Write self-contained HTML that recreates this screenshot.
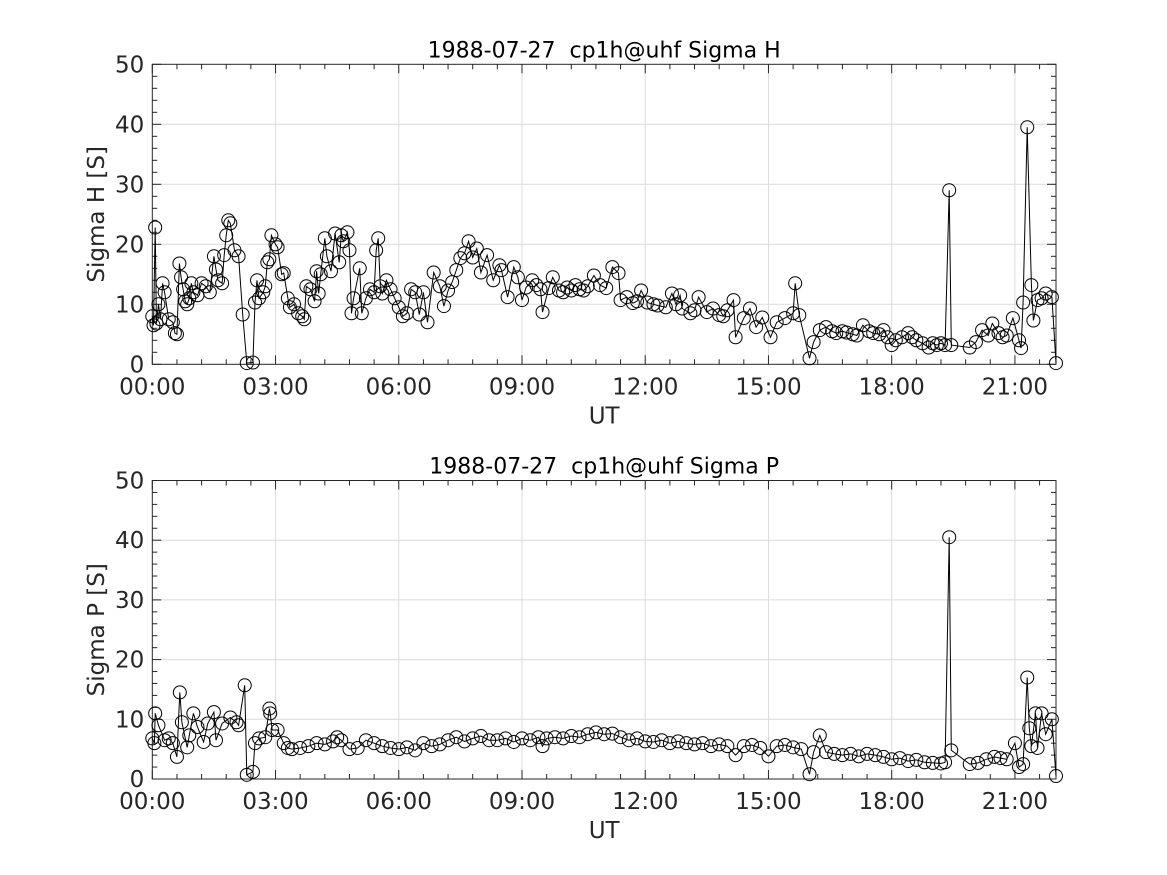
<!DOCTYPE html>
<html><head><meta charset="utf-8"><style>
body{margin:0;background:#fff;}
svg{display:block;font-family:"DejaVu Sans","Liberation Sans",sans-serif;}
</style></head><body>
<svg id="fig" width="1167" height="875" viewBox="0 0 1167 875" xmlns="http://www.w3.org/2000/svg"></svg>
<script>
const xTickLabels=["00:00","03:00","06:00","09:00","12:00","15:00","18:00","21:00"];
const yTickLabels=["0","10","20","30","40","50"];
const hT=[0,0.03,0.07,0.1,0.15,0.2,0.25,0.3,0.4,0.5,0.55,0.6,0.66,0.7,0.75,0.8,0.85,0.9,0.95,1.0,1.1,1.2,1.3,1.4,1.5,1.55,1.6,1.7,1.75,1.8,1.85,1.9,2.0,2.1,2.2,2.3,2.45,2.5,2.55,2.6,2.7,2.75,2.8,2.85,2.9,3.0,3.05,3.15,3.2,3.3,3.35,3.45,3.55,3.65,3.7,3.75,3.85,3.95,4.0,4.05,4.1,4.2,4.25,4.35,4.45,4.55,4.6,4.65,4.75,4.8,4.85,4.9,5.05,5.1,5.2,5.3,5.4,5.45,5.5,5.55,5.6,5.7,5.8,5.9,6.0,6.1,6.2,6.3,6.4,6.5,6.6,6.7,6.85,7.0,7.1,7.2,7.3,7.4,7.5,7.6,7.7,7.8,7.9,8.0,8.15,8.3,8.45,8.5,8.65,8.8,8.9,9.0,9.1,9.25,9.35,9.45,9.5,9.65,9.75,9.9,10.0,10.1,10.2,10.3,10.4,10.5,10.6,10.75,10.9,11.05,11.2,11.35,11.4,11.55,11.7,11.8,11.9,12.05,12.2,12.3,12.5,12.65,12.75,12.85,12.9,13.1,13.2,13.3,13.5,13.65,13.8,13.9,14.0,14.15,14.2,14.4,14.55,14.7,14.85,15.05,15.2,15.4,15.6,15.65,15.75,16.0,16.1,16.25,16.4,16.55,16.65,16.8,16.9,17.05,17.15,17.3,17.45,17.55,17.7,17.8,17.9,18.0,18.1,18.25,18.4,18.5,18.6,18.75,18.9,19.0,19.1,19.2,19.3,19.4,19.45,19.9,20.05,20.2,20.35,20.45,20.6,20.7,20.8,20.95,21.1,21.15,21.2,21.3,21.4,21.45,21.55,21.65,21.75,21.9,22.0];
const hV=[8,6.5,22.8,6.8,10,7.5,13.5,12,7.5,7,5.2,5,16.8,14.5,12.5,10.5,10,11,13.5,12,11.5,13.5,13,12,18,15.8,14,13.5,18.2,21.5,24,23.5,19,18,8.3,0.2,0.3,10.3,14,11,12,13,17,17.5,21.5,20,19.5,15,15.2,11,9.5,10,8.5,8,7.5,13,12.5,10.5,15.5,11.8,15,21,18,15.5,21.8,17,21.5,20.5,22,19,8.5,11,16,8.5,11,12.5,12,19,21,13,11.8,14,12.5,11,9.5,8,8.5,12.5,12,8.3,12,7,15.3,13,9.7,12.3,13.7,15.7,17.7,18.5,20.5,17.8,19.3,15.3,18.2,14,16.5,15.7,11.2,16.2,14.5,10.7,12.8,14,13.2,12.5,8.7,12.7,14.5,12.3,12,12.8,12.3,13.2,12.5,12.3,13,14.8,13.2,12.7,16.2,15.2,10.7,11.2,10.2,10.5,12.3,10.3,10,9.8,9.5,11.8,10,11.5,9.3,8.5,9,11.2,8.7,9.3,8.2,8,9,10.7,4.5,7.7,9.3,6.2,7.8,4.5,7,7.7,8.5,13.5,8.2,1,3.7,5.7,6.2,5.5,5.2,5.5,5.3,5,4.8,6.5,5.5,5.2,5,5.7,4.5,3.2,4,4.5,5.2,4.5,4,3.5,2.8,3.5,3.2,3.5,3.2,29,3.2,2.8,3.7,5.7,4.8,6.8,5.2,4.5,4.8,7.7,4,2.7,10.3,39.5,13.2,7.3,10.7,11,11.8,11.2,0.2];
const pT=[0,0.05,0.07,0.15,0.3,0.4,0.5,0.6,0.67,0.72,0.85,0.9,1.0,1.1,1.25,1.35,1.5,1.55,1.7,1.9,2.05,2.1,2.25,2.3,2.45,2.5,2.6,2.75,2.85,2.87,2.92,3.05,3.2,3.3,3.4,3.6,3.8,4.0,4.2,4.4,4.5,4.6,4.8,5.0,5.2,5.4,5.6,5.8,6.0,6.2,6.4,6.6,6.8,7.0,7.2,7.4,7.6,7.8,8.0,8.2,8.4,8.6,8.8,9.0,9.2,9.4,9.5,9.6,9.8,10.0,10.2,10.4,10.6,10.8,11.0,11.2,11.4,11.6,11.8,12.0,12.2,12.4,12.6,12.8,13.0,13.2,13.4,13.6,13.8,14.0,14.2,14.4,14.6,14.8,15.0,15.2,15.4,15.6,15.8,16.0,16.1,16.25,16.4,16.6,16.8,17.0,17.2,17.4,17.6,17.8,18.0,18.2,18.4,18.6,18.8,19.0,19.2,19.3,19.4,19.45,19.9,20.1,20.3,20.5,20.65,20.8,21.0,21.1,21.2,21.3,21.35,21.4,21.5,21.55,21.65,21.75,21.9,22.0];
const pV=[6.8,6,11,9,6.5,6.8,6,3.7,14.5,9.5,5.3,7.3,11,8.7,6.2,9.3,11.2,6.5,9.3,10.3,9.5,9,15.7,0.7,1.2,6,6.8,7,11.8,11,8.2,8.2,6,5.2,5,5.2,5.5,6,5.8,6.3,7,6.5,5,5.2,6.5,6,5.5,5.2,5,5.3,4.8,6,5.5,5.8,6.5,7,6.3,6.8,7.2,6.5,6.5,6.8,6.2,6.8,6.5,7,5.5,6.8,7,6.8,7.2,7,7.5,7.8,7.5,7.6,7,6.5,6.8,6.3,6.2,6.5,6,6.3,6,5.8,6,5.5,5.8,5.5,4,5.5,5.7,5.2,3.8,5.5,5.7,5.3,5,0.8,4.5,7.3,4.5,4.2,4,4.2,3.8,4.2,4,3.7,3.3,3.5,3,3.2,2.8,2.7,2.6,2.8,40.5,4.8,2.5,2.7,3.3,3.7,3.5,3.3,6,2,2.5,17,8.5,5.5,11,5.2,11,7.5,10,0.5];

const NS="http://www.w3.org/2000/svg";
const svg=document.getElementById('fig');
function mk(tag,attrs,parent){const e=document.createElementNS(NS,tag);for(const k in attrs)e.setAttribute(k,attrs[k]);(parent||svg).appendChild(e);return e;}
const FS=23;
function panel(top,bottom,title,ylabel,T,V,key){
  const L=152.3,R=1056,xMax=22,yMax=50;
  const g=mk('g',{});
  
  
  const xs=t=>L+(R-L)*t/xMax;
  const ys=v=>bottom-(bottom-top)*v/yMax;
  for(let i=1;i<8;i++){const l=mk('line',{x1:xs(i*3),x2:xs(i*3),y1:top,y2:bottom,stroke:'#dcdcdc','stroke-width':1},g);
    }
  for(let i=1;i<5;i++){const l=mk('line',{x1:L,x2:R,y1:ys(i*10),y2:ys(i*10),stroke:'#dcdcdc','stroke-width':1},g);
    }
  for(let m=0;m<=xMax/0.6+0.01;m++){const t=m*0.6;if(t>xMax)break;const major=(m%5===0);const len=major?9:5;
    mk('line',{x1:xs(t),x2:xs(t),y1:bottom,y2:bottom-len,stroke:'#262626','stroke-width':1},g);
    mk('line',{x1:xs(t),x2:xs(t),y1:top,y2:top+len,stroke:'#262626','stroke-width':1},g);}
  for(let v=0;v<=50;v+=2){const major=(v%10===0);const len=major?9:5;
    mk('line',{x1:L,x2:L+len,y1:ys(v),y2:ys(v),stroke:'#262626','stroke-width':1},g);
    mk('line',{x1:R,x2:R-len,y1:ys(v),y2:ys(v),stroke:'#262626','stroke-width':1},g);}
  const box=mk('rect',{x:L,y:top,width:R-L,height:bottom-top,fill:'none',stroke:'#262626','stroke-width':1},g);
  
  xTickLabels.forEach((s,i)=>{const tx=mk('text',{x:xs(i*3),y:bottom+30,'text-anchor':'middle','font-size':FS,fill:'#262626'},g);tx.textContent=s;
    });
  yTickLabels.forEach((s,i)=>{const tx=mk('text',{x:L-8,y:ys(i*10)+8,'text-anchor':'end','font-size':FS,fill:'#262626'},g);tx.textContent=s;
    });
  const xt=mk('text',{x:(L+R)/2,y:bottom+59,'text-anchor':'middle','font-size':FS,fill:'#262626'},g);xt.textContent='UT';
  
  const cy=(top+bottom)/2;
  const yt=mk('text',{x:104,y:cy,'text-anchor':'middle','font-size':FS,fill:'#262626',transform:`rotate(-90 104 ${cy})`},g);yt.textContent=ylabel;
  
  const tt=mk('text',{x:(L+R)/2,y:top-7,'text-anchor':'middle','font-size':FS-1,fill:'#000','xml:space':'preserve'},g);
  tt.style.whiteSpace='pre';tt.textContent=title;
  
  const pts=T.map((t,i)=>xs(t).toFixed(1)+','+ys(V[i]).toFixed(1)).join(' ');
  const pl=mk('polyline',{points:pts,fill:'none',stroke:'#000','stroke-width':1},g);
  
  T.forEach((t,i)=>{const c=mk('circle',{cx:xs(t),cy:ys(V[i]),r:6.5,fill:'none',stroke:'#000','stroke-width':1},g);
    });
}
panel(64.3,364.3,'1988-07-27  cp1h@uhf Sigma H','Sigma H [S]',hT,hV,'sigma-h');
panel(480.5,779,'1988-07-27  cp1h@uhf Sigma P','Sigma P [S]',pT,pV,'sigma-p');
</script>
</body></html>
